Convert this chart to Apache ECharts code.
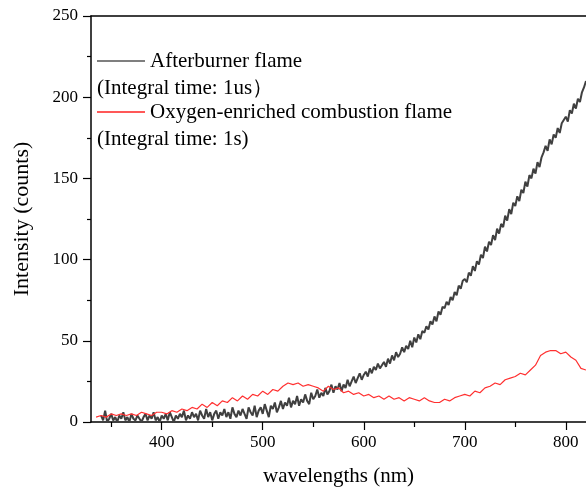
<!DOCTYPE html>
<html>
<head>
<meta charset="utf-8">
<script src="https://cdn.jsdelivr.net/npm/echarts@6/dist/echarts.min.js"></script>
<style>html,body{margin:0;padding:0;background:#fff}#c{width:586px;height:492px}</style>
</head>
<body>
<div id="c"></div>
<script>
// Afterburner flame: every 2 nm from 340 to 820
const blackStart = 340, blackStep = 2;
const blackValues = [
  4,1,7,0,2,5,1,3,0,4,
  2,6,1,3,0,5,2,1,4,2,
  0,3,5,1,4,2,6,1,3,0,
  4,2,5,1,6,3,0,4,2,5,
  3,7,1,4,2,6,3,5,1,7,
  4,2,8,3,6,1,5,7,2,6,
  4,8,3,6,2,9,5,3,7,4,
  8,5,2,9,6,4,10,3,7,9,
  5,11,7,3,10,8,12,6,9,13,
  8,12,10,15,9,13,11,16,10,14,
  12,17,13,11,18,14,16,20,15,18,
  16,21,17,19,23,18,22,20,24,19,
  23,21,26,22,25,28,24,27,30,26,
  29,31,28,33,30,34,32,36,33,35,
  37,34,39,36,41,38,43,40,42,46,
  43,47,45,50,46,52,49,54,51,56,
  55,59,57,62,60,65,62,68,66,71,
  70,74,72,77,75,80,78,84,82,87,
  88,86,92,90,96,93,99,97,103,101,
  108,105,111,109,115,112,119,116,122,120,
  127,124,131,128,135,133,139,136,143,141,
  148,145,152,150,156,153,160,157,163,166,
  170,167,174,171,177,175,181,178,184,186,
  188,185,192,190,196,193,199,197,203,206,
  210
];
// Oxygen-enriched flame: every 5 nm from 335 to 820
const redStart = 335, redStep = 5;
const redValues = [
  3,4,3,5,4,5,4,5,4,6,5,4,6,6,5,7,6,8,7,9,8,11,9,12,10,13,12,15,13,16,14,17,16,19,17,20,19,22,24,23,
  24,22,23,22,21,19,22,20,21,18,19,17,18,16,17,15,16,14,16,14,15,13,15,14,13,15,13,12,12,14,13,15,16,17,
  16,19,18,21,22,24,23,26,27,28,30,29,32,35,41,43,44,44,42,43,40,38,33,32
];
const xTickValues = [400,500,600,700,800];
const xMinorTickValues = [350,450,550,650,750];
const xLabelValues = [400,500,600,700,800];
const legendLines = ['Afterburner flame','(Integral time: 1us）','Oxygen-enriched combustion flame','(Integral time: 1s)'];

const blackData = blackValues.map((v,i)=>[blackStart + i*blackStep, v]);
const redData = redValues.map((v,i)=>[redStart + i*redStep, v]);

const font = 'Liberation Serif';
const chart = echarts.init(document.getElementById('c'), null, {renderer:'canvas'});
chart.setOption({
  animation:false,
  backgroundColor:'#fff',
  grid:{left:91, right:0, top:16, bottom:68},
  xAxis:[{
    type:'value', min:330, max:820,
    name:'wavelengths (nm)', nameLocation:'middle', nameGap:44,
    nameTextStyle:{fontFamily:font, fontSize:21, color:'#000'},
    axisLine:{lineStyle:{color:'#000', width:1.5}},
    axisTick:{show:true, length:8, lineStyle:{color:'#000', width:1.2}, customValues:xTickValues},
    axisLabel:{fontFamily:font, fontSize:17, color:'#000', margin:12, customValues:xLabelValues},
    splitLine:{show:false}
  },{
    type:'value', min:330, max:820, position:'bottom',
    axisLine:{show:false},
    axisTick:{show:true, length:5, lineStyle:{color:'#000', width:1.2}, customValues:xMinorTickValues},
    axisLabel:{show:false}, splitLine:{show:false}
  },{
    type:'value', min:330, max:820, position:'top',
    axisLine:{show:true, onZero:false, lineStyle:{color:'#000', width:1.5}},
    axisTick:{show:false}, axisLabel:{show:false}, splitLine:{show:false}
  }],
  yAxis:{
    type:'value', min:0, max:250, interval:50,
    name:'Intensity (counts)', nameLocation:'middle', nameGap:58,
    nameTextStyle:{fontFamily:font, fontSize:22, color:'#000'},
    axisLine:{show:true, lineStyle:{color:'#000', width:1.5}},
    axisTick:{show:true, length:8, lineStyle:{color:'#000', width:1.2}},
    minorTick:{show:true, splitNumber:2, length:4, lineStyle:{color:'#000', width:1.2}},
    axisLabel:{fontFamily:font, fontSize:17, color:'#000', margin:13},
    splitLine:{show:false}
  },
  series:[{
    type:'line', data:blackData, showSymbol:false, symbol:'none',
    lineStyle:{color:'#404040', width:2}, z:2
  },{
    type:'line', data:redData, showSymbol:false, symbol:'none',
    lineStyle:{color:'#ff3030', width:1.2}, z:3
  }],
  graphic:[
    {type:'line', shape:{x1:97,y1:61,x2:145,y2:61}, style:{stroke:'#555', lineWidth:1.5}},
    {type:'text', x:150, y:61, style:{text:legendLines[0], font:'21px "Liberation Serif"', fill:'#000', verticalAlign:'middle'}},
    {type:'text', x:97, y:88, style:{text:legendLines[1], font:'21px "Liberation Serif"', fill:'#000', verticalAlign:'middle'}},
    {type:'line', shape:{x1:97,y1:112,x2:145,y2:112}, style:{stroke:'#ff2020', lineWidth:1.5}},
    {type:'text', x:150, y:112, style:{text:legendLines[2], font:'21px "Liberation Serif"', fill:'#000', verticalAlign:'middle'}},
    {type:'text', x:97, y:139, style:{text:legendLines[3], font:'21px "Liberation Serif"', fill:'#000', verticalAlign:'middle'}}
  ]
});
</script>
</body>
</html>
